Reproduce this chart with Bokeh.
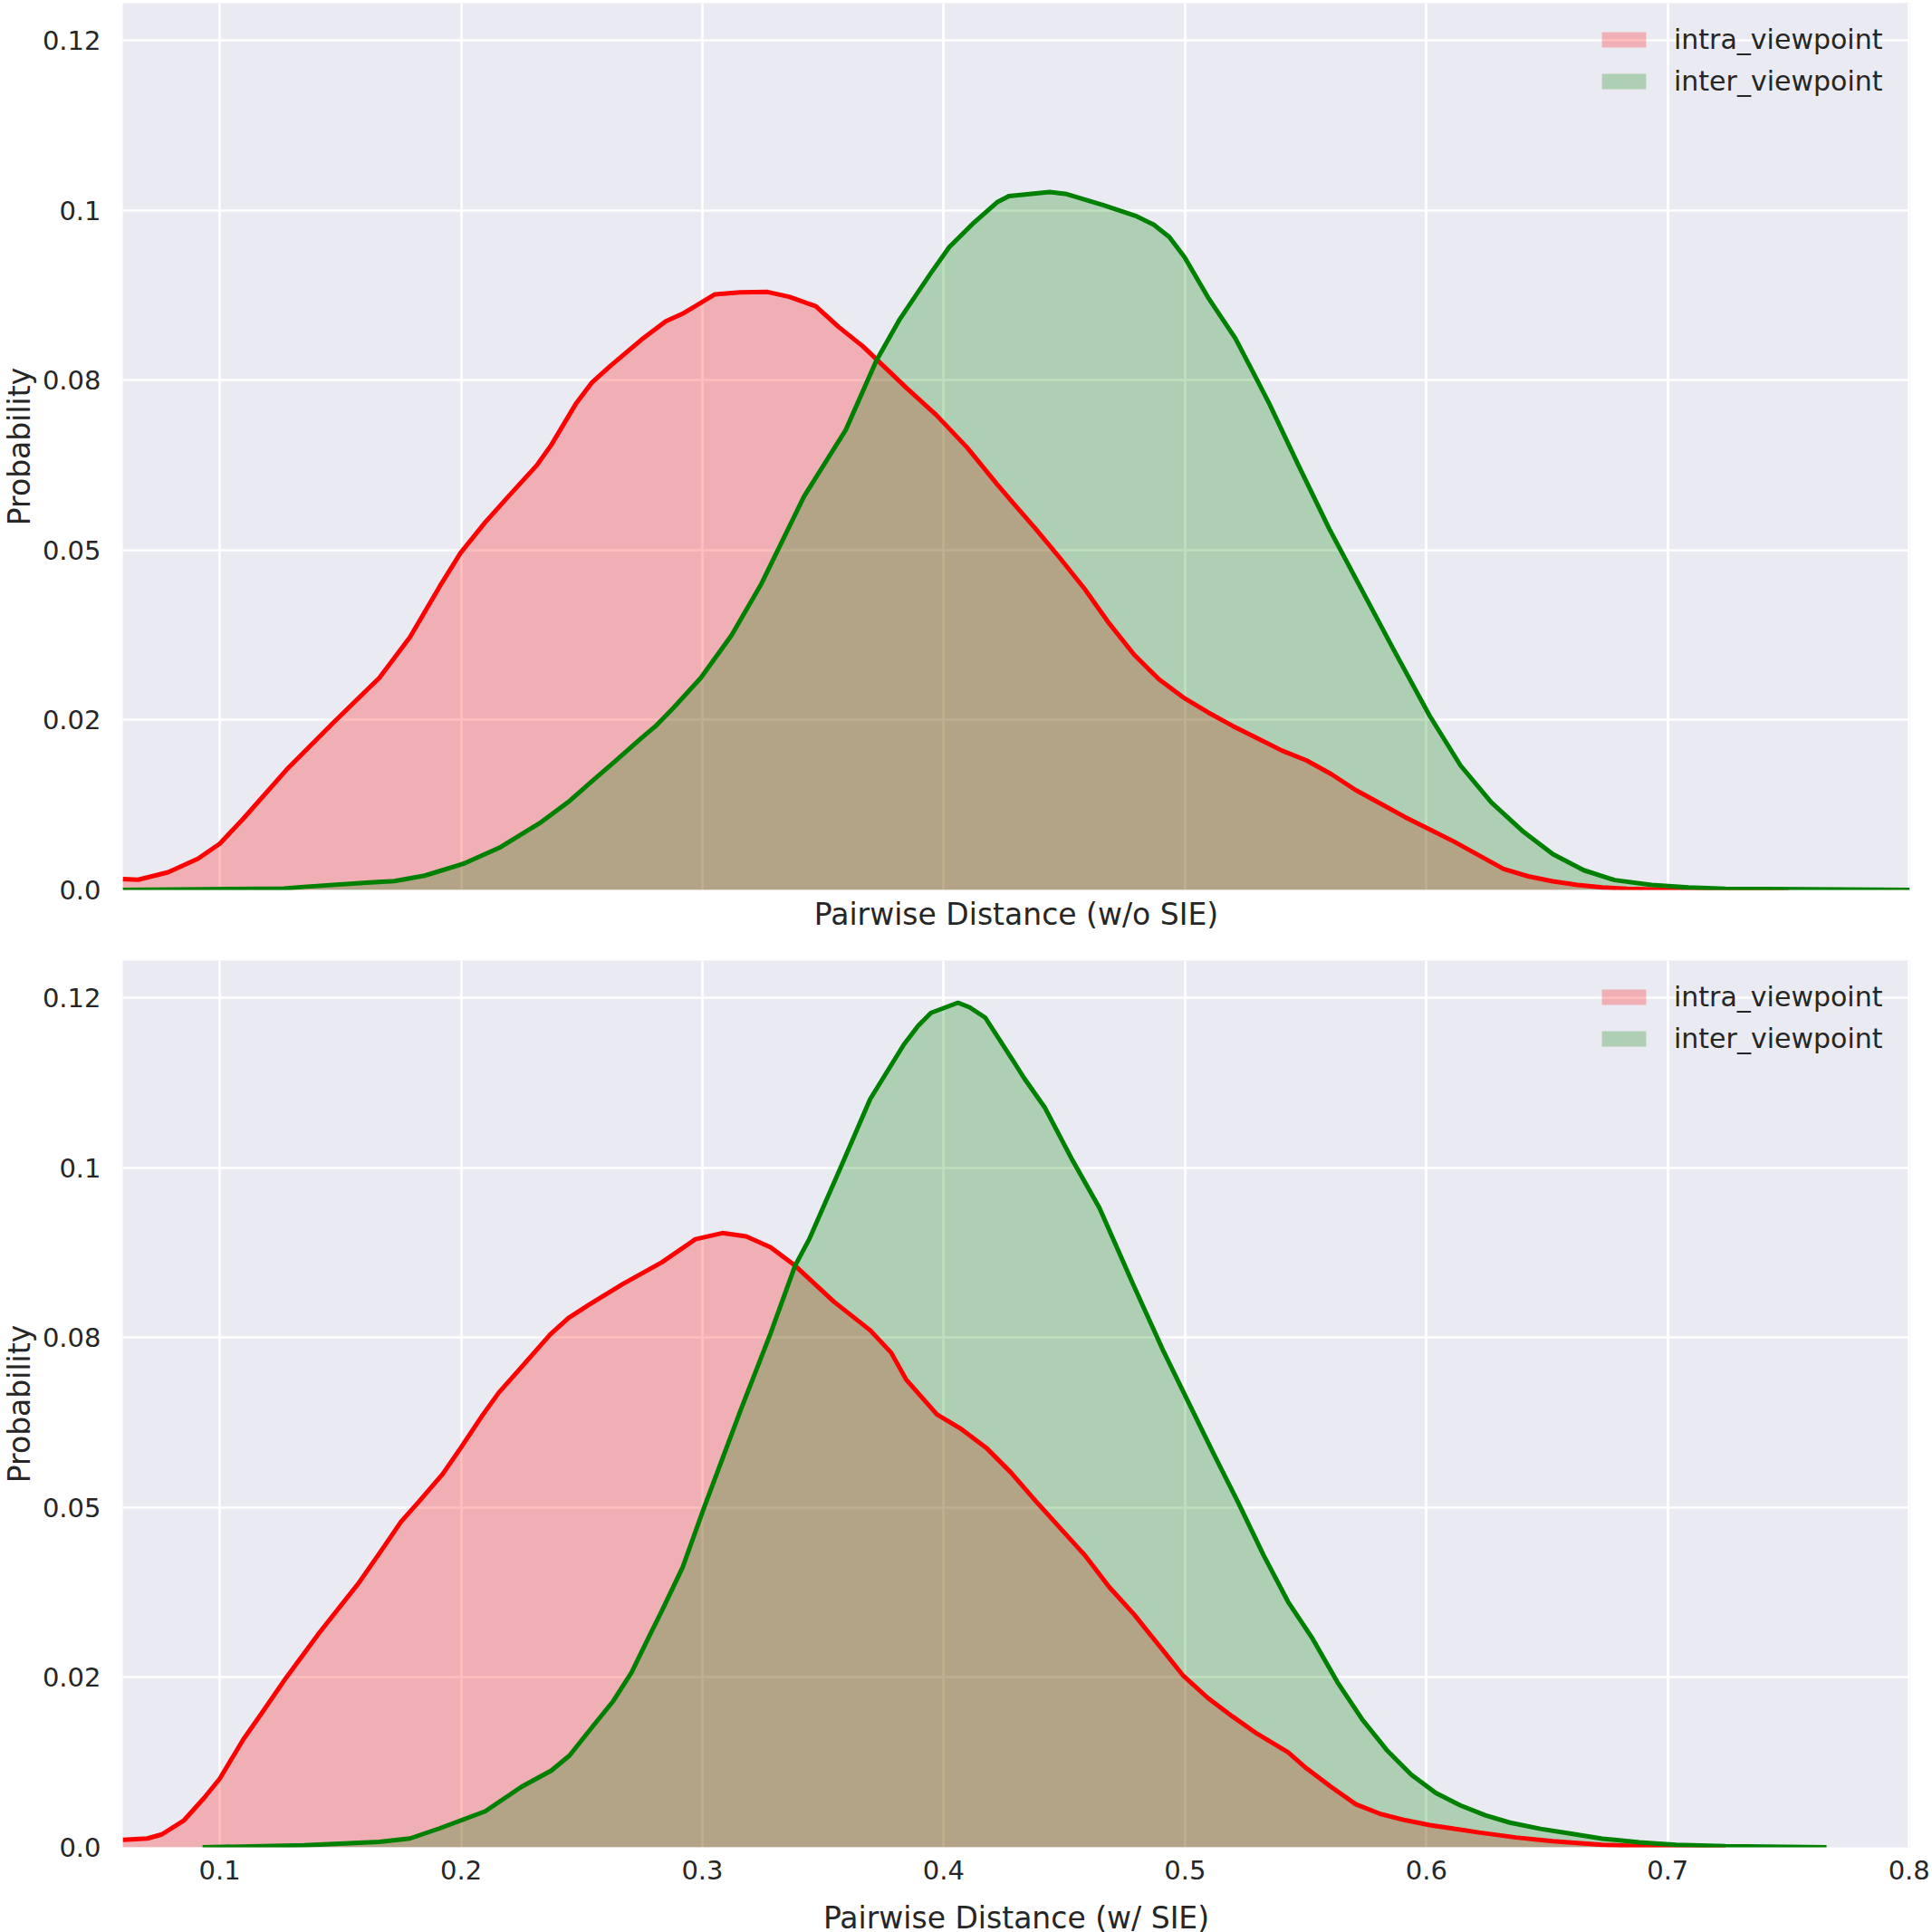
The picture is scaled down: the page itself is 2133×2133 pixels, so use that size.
import math
from bokeh.plotting import figure
from bokeh.layouts import column, row
from bokeh.models import Range1d, FixedTicker, Legend, LegendItem
from bokeh.core.properties import value
from bokeh.embed import file_html
from bokeh.resources import INLINE

# ---------------- data ----------------
top_intra_x = [0.0598, 0.0662, 0.0786, 0.091, 0.1, 0.1098, 0.1285, 0.1473, 0.1661, 0.1788,
               0.1912, 0.1998, 0.21, 0.2201, 0.2314, 0.2374, 0.2475, 0.2543, 0.2618, 0.2746,
               0.2848, 0.2918, 0.2993, 0.3052, 0.3155, 0.327, 0.3359, 0.347, 0.3563, 0.3665,
               0.3721, 0.3845, 0.3969, 0.4097, 0.4221, 0.4278, 0.438, 0.4482, 0.4584, 0.4686,
               0.4788, 0.4891, 0.4993, 0.5095, 0.5197, 0.5299, 0.5401, 0.5503, 0.5605, 0.5707,
               0.581, 0.5912, 0.6014, 0.6116, 0.6218, 0.632, 0.6422, 0.6524, 0.6626, 0.6729,
               0.6831, 0.6984, 0.75]
top_intra_y = [0.0016, 0.0015, 0.0026, 0.0046, 0.0068, 0.0105, 0.018, 0.0247, 0.0312, 0.0372,
               0.0447, 0.0496, 0.0541, 0.0581, 0.0625, 0.0655, 0.0715, 0.0747, 0.0771, 0.08094,
               0.08367, 0.0848, 0.0864, 0.08766, 0.08793, 0.0880, 0.0873, 0.0859, 0.0829, 0.0800,
               0.0781, 0.0739, 0.0699, 0.0651, 0.0597, 0.05735, 0.05318, 0.04882, 0.04428, 0.0392,
               0.03466, 0.03103, 0.02831, 0.02613, 0.02414, 0.02232, 0.02051, 0.01906, 0.01706, 0.0147,
               0.0127, 0.01071, 0.00889, 0.00708, 0.00508, 0.00309, 0.002, 0.00127, 0.00073, 0.00036,
               0.00018, 0.00005, 0.0]

top_inter_x = [0.0598, 0.1265, 0.1349, 0.1623, 0.1724, 0.1849, 0.2013, 0.2164, 0.2325, 0.245,
               0.2543, 0.2644, 0.2746, 0.2806, 0.288, 0.2993, 0.3121, 0.3245, 0.3421, 0.3594,
               0.3721, 0.3818, 0.3947, 0.4023, 0.4125, 0.4221, 0.427, 0.4439, 0.451, 0.466,
               0.4795, 0.487, 0.4934, 0.4998, 0.5095, 0.5208, 0.5283, 0.5347, 0.5471, 0.5598,
               0.5733, 0.5861, 0.6014, 0.6141, 0.6269, 0.6397, 0.6524, 0.6652, 0.678, 0.6933,
               0.7086, 0.7239, 0.8003]
top_inter_y = [0.0, 0.0002, 0.00045, 0.0011, 0.0013, 0.0021, 0.0039, 0.0063, 0.0098, 0.0131,
               0.016, 0.0191, 0.0223, 0.0241, 0.0268, 0.0312, 0.0375, 0.0451, 0.0579, 0.0677,
               0.0779, 0.0840, 0.0908, 0.0946, 0.0982, 0.1012, 0.1021, 0.1027, 0.1024, 0.1008,
               0.0992, 0.0979, 0.0961, 0.0931, 0.0872, 0.0812, 0.0761, 0.0717, 0.0624, 0.0531,
               0.0441, 0.03557, 0.02559, 0.01833, 0.01289, 0.00871, 0.00526, 0.0029, 0.00145, 0.00073,
               0.00036, 0.00018, 0.0]

bot_intra_x = [0.0598, 0.07, 0.076, 0.085, 0.0936, 0.1, 0.1098, 0.1173, 0.1274, 0.1413,
               0.1574, 0.1676, 0.1751, 0.1826, 0.1923, 0.1999, 0.2089, 0.2156, 0.2236, 0.237,
               0.2445, 0.2532, 0.267, 0.2832, 0.2971, 0.3083, 0.3181, 0.3282, 0.3384, 0.3545,
               0.3695, 0.3782, 0.3845, 0.3972, 0.4074, 0.4176, 0.4278, 0.438, 0.4482, 0.4584,
               0.4686, 0.4788, 0.4891, 0.4993, 0.5095, 0.5197, 0.5299, 0.5427, 0.5503, 0.5605,
               0.5707, 0.581, 0.5912, 0.6014, 0.6116, 0.6218, 0.6371, 0.6524, 0.6729, 0.6933,
               0.7239]
bot_intra_y = [0.0011, 0.0013, 0.0019, 0.0039, 0.0073, 0.0101, 0.0159, 0.0197, 0.0249, 0.0316,
               0.0388, 0.044, 0.0479, 0.0509, 0.0549, 0.0588, 0.0636, 0.0669, 0.0701, 0.0755,
               0.0779, 0.0799, 0.0829, 0.0861, 0.0895, 0.0904, 0.0899, 0.0883, 0.0856, 0.0803,
               0.0761, 0.0728, 0.0688, 0.0637, 0.06152, 0.0588, 0.05517, 0.051, 0.04701, 0.04301,
               0.03829, 0.0343, 0.02976, 0.02523, 0.02196, 0.01924, 0.0167, 0.01397, 0.01162, 0.00889,
               0.00635, 0.0049, 0.00399, 0.00327, 0.00272, 0.00218, 0.00145, 0.00091, 0.00036, 0.0001,
               0.0]

bot_inter_x = [0.0929, 0.1349, 0.1661, 0.1788, 0.1912, 0.21, 0.225, 0.2374, 0.2449, 0.255,
               0.263, 0.2706, 0.2783, 0.2832, 0.2918, 0.3008, 0.3158, 0.3282, 0.3384, 0.3444,
               0.3571, 0.3695, 0.3834, 0.3894, 0.3947, 0.4059, 0.4108, 0.4172, 0.4285, 0.4333,
               0.442, 0.4532, 0.4645, 0.4784, 0.4908, 0.5073, 0.512, 0.5222, 0.5325, 0.5427,
               0.5529, 0.5631, 0.5733, 0.5835, 0.5937, 0.6039, 0.6141, 0.6244, 0.6346, 0.6473,
               0.6601, 0.6729, 0.6882, 0.7035, 0.7239, 0.7658]
bot_inter_y = [0.0, 0.0003, 0.0008, 0.0013, 0.0028, 0.0053, 0.0089, 0.0113, 0.0135, 0.018,
               0.0215, 0.0257, 0.0313, 0.0348, 0.0412, 0.0501, 0.0643, 0.0756, 0.0856, 0.0896,
               0.0999, 0.1101, 0.1181, 0.1209, 0.1228, 0.1243, 0.1236, 0.1221, 0.1159, 0.1132,
               0.1088, 0.1012, 0.0941, 0.0829, 0.0732, 0.0612, 0.0578, 0.0506, 0.04301, 0.03612,
               0.03067, 0.02432, 0.01887, 0.01434, 0.01071, 0.00799, 0.00617, 0.00472, 0.00363, 0.00272,
               0.002, 0.00127, 0.00073, 0.00036, 0.00018, 0.0]

x_ticks = [0.1, 0.2, 0.3, 0.4, 0.5, 0.6, 0.7, 0.8]
y_ticks = [0.0, 0.025, 0.05, 0.075, 0.1, 0.125]
y_tick_labels = ["0.0", "0.02", "0.05", "0.08", "0.1", "0.12"]
series_names = ["intra_viewpoint", "inter_viewpoint"]
series_colors = ["#ff0000", "#008000"]
y_title = "Probability"

FONT = "DejaVu Sans"
TXT = "#262626"
BG = "#eaeaf2"
FRAME_H = 979
STRIP_W = 42


def make_strip(top_border, bottom_border):
    # narrow column holding the rotated y-axis title
    s = figure(frame_width=STRIP_W, frame_height=FRAME_H, output_backend="svg", toolbar_location=None,
               x_range=Range1d(0, STRIP_W), y_range=Range1d(0, FRAME_H),
               min_border_left=0, min_border_right=0, min_border_top=top_border,
               min_border_bottom=bottom_border)
    s.axis.visible = False
    s.grid.visible = False
    s.outline_line_color = None
    s.background_fill_color = "white"
    s.border_fill_color = "white"
    s.text(x=[21], y=[FRAME_H / 2], text=[y_title], angle=math.pi / 2,
           text_align="center", text_baseline="middle",
           text_font=value(FONT), text_font_size="33px", text_color=TXT)
    return s


def make_fig(xlabel, intra, inter, top_border, bottom_border, show_xticks):
    p = figure(frame_width=1973, frame_height=FRAME_H, output_backend="svg", toolbar_location=None,
               x_range=Range1d(0.0598, 0.8003), y_range=Range1d(0, 0.1305),
               min_border_left=135 - STRIP_W, min_border_right=25, min_border_top=top_border,
               min_border_bottom=bottom_border)
    p.background_fill_color = BG
    p.border_fill_color = "white"
    p.outline_line_color = None
    p.xgrid.ticker = FixedTicker(ticks=x_ticks)
    p.ygrid.ticker = FixedTicker(ticks=y_ticks)
    for g in (p.xgrid, p.ygrid):
        g.grid_line_color = "white"
        g.grid_line_width = 2.6
    p.xaxis.ticker = FixedTicker(ticks=x_ticks if show_xticks else [])
    p.yaxis.ticker = FixedTicker(ticks=y_ticks)
    p.yaxis.major_label_overrides = {t: l for t, l in zip(y_ticks, y_tick_labels)}
    p.xaxis.major_label_overrides = {t: f"{t:.1f}" for t in x_ticks}
    for ax in (p.xaxis[0], p.yaxis[0]):
        ax.axis_line_color = None
        ax.major_tick_line_color = None
        ax.minor_tick_line_color = None
        ax.major_tick_out = 0
        ax.major_tick_in = 0
        ax.minor_tick_out = 0
        ax.major_label_text_font = FONT
        ax.major_label_text_font_size = "29px"
        ax.major_label_text_color = TXT
        ax.axis_label_text_font = FONT
        ax.axis_label_text_font_size = "33px"
        ax.axis_label_text_color = TXT
        ax.axis_label_text_font_style = "normal"
    p.yaxis.major_label_standoff = 24
    p.xaxis.axis_label = xlabel
    if show_xticks:
        p.xaxis.major_label_standoff = 14
        p.xaxis.axis_label_standoff = 20
    else:
        p.xaxis.major_label_standoff = 0
        p.xaxis.axis_label_standoff = 7

    areas = []
    for (xs, ys), c in zip((intra, inter), series_colors):
        areas.append(p.varea(x=xs, y1=[0.0] * len(xs), y2=ys, fill_color=c, fill_alpha=0.25))
    for (xs, ys), c in zip((intra, inter), series_colors):
        p.line(x=xs, y=ys, line_color=c, line_width=5)

    legend = Legend(items=[LegendItem(label=n, renderers=[r]) for n, r in zip(series_names, areas)],
                    location=(1617, 860))
    legend.background_fill_alpha = 0
    legend.border_line_alpha = 0
    legend.glyph_width = 61
    legend.glyph_height = 21
    legend.label_height = 46
    legend.label_standoff = 25
    legend.spacing = 0
    legend.padding = 10
    legend.margin = 0
    legend.label_text_font = FONT
    legend.label_text_font_size = "30px"
    legend.label_text_color = TXT
    p.add_layout(legend, "center")
    return p


s1 = make_strip(3, 58)
p1 = make_fig("Pairwise Distance (w/o SIE)", (top_intra_x, top_intra_y), (top_inter_x, top_inter_y),
              3, 58, False)
s2 = make_strip(20, 94)
p2 = make_fig("Pairwise Distance (w/ SIE)", (bot_intra_x, bot_intra_y), (bot_inter_x, bot_inter_y),
              20, 94, True)

layout = column(row(s1, p1, spacing=0), row(s2, p2, spacing=0), spacing=0)
html = file_html(layout, INLINE)
html = html.replace("<head>", "<head><style>html,body{margin:0;overflow:hidden;}</style>", 1)
open("out.html", "w").write(html)
